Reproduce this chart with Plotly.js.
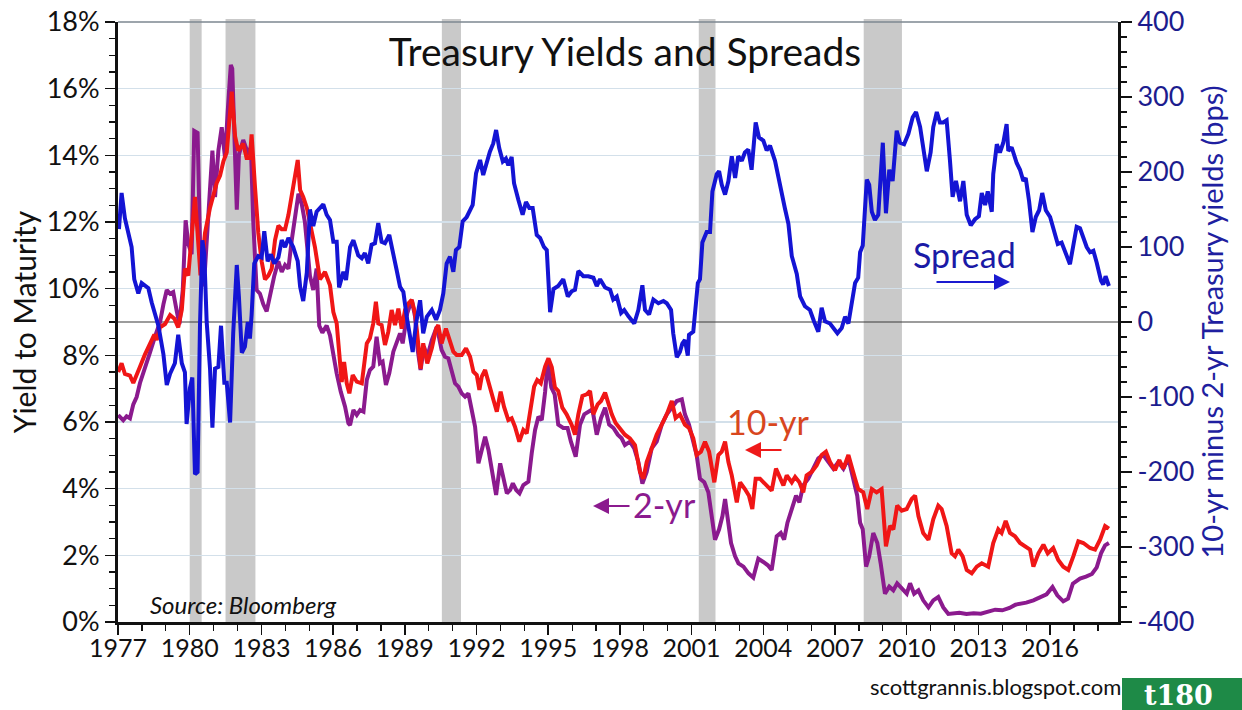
<!DOCTYPE html>
<html>
<head>
<meta charset="utf-8">
<script src="https://cdn.plot.ly/plotly-3.0.1.min.js"></script>
<style>
  html, body { margin: 0; padding: 0; background: #ffffff; }
  #chart { width: 1242px; height: 710px; }
</style>
</head>
<body>
<div id="chart"></div>
<script>
// ---------------- DATA ----------------
const spreadYears = [1977.04,1977.15,1977.29,1977.57,1977.68,1977.85,1977.99,1978.27,1978.41,1978.69,1978.90,1979.04,1979.18,1979.38,1979.52,1979.67,1979.80,1979.87,1980.01,1980.11,1980.22,1980.33,1980.43,1980.53,1980.61,1980.71,1980.85,1980.95,1981.06,1981.20,1981.31,1981.45,1981.55,1981.69,1981.82,1981.97,1982.06,1982.18,1982.31,1982.43,1982.52,1982.59,1982.70,1982.87,1983.01,1983.12,1983.26,1983.40,1983.54,1983.71,1983.85,1983.99,1984.13,1984.33,1984.52,1984.62,1984.75,1984.90,1985.03,1985.17,1985.31,1985.45,1985.59,1985.73,1985.87,1986.01,1986.15,1986.25,1986.43,1986.54,1986.71,1986.85,1987.05,1987.20,1987.33,1987.47,1987.61,1987.75,1987.89,1988.03,1988.17,1988.35,1988.52,1988.66,1988.80,1988.94,1989.08,1989.22,1989.33,1989.47,1989.64,1989.77,1989.92,1990.13,1990.31,1990.47,1990.61,1990.75,1990.89,1991.03,1991.14,1991.28,1991.42,1991.59,1991.73,1991.84,1991.98,1992.15,1992.28,1992.43,1992.56,1992.70,1992.82,1992.95,1993.10,1993.23,1993.33,1993.47,1993.57,1993.75,1993.93,1994.07,1994.21,1994.35,1994.52,1994.66,1994.82,1994.94,1995.08,1995.22,1995.42,1995.63,1995.82,1995.98,1996.12,1996.26,1996.47,1996.68,1996.89,1997.03,1997.17,1997.38,1997.59,1997.72,1997.87,1998.05,1998.18,1998.35,1998.60,1998.77,1998.94,1999.05,1999.22,1999.40,1999.61,1999.82,1999.96,2000.14,2000.23,2000.38,2000.51,2000.61,2000.72,2000.84,2000.89,2001.07,2001.17,2001.26,2001.35,2001.45,2001.63,2001.77,2001.87,2002.05,2002.15,2002.26,2002.40,2002.54,2002.68,2002.82,2002.95,2003.10,2003.23,2003.37,2003.51,2003.68,2003.82,2004.00,2004.14,2004.28,2004.49,2004.63,2004.77,2004.90,2005.05,2005.19,2005.40,2005.54,2005.74,2005.95,2006.12,2006.30,2006.44,2006.58,2006.79,2006.93,2007.10,2007.28,2007.42,2007.56,2007.70,2007.84,2007.97,2008.05,2008.16,2008.23,2008.33,2008.43,2008.54,2008.67,2008.81,2009.00,2009.13,2009.27,2009.41,2009.58,2009.72,2009.89,2010.07,2010.25,2010.39,2010.56,2010.69,2010.84,2011.00,2011.11,2011.26,2011.39,2011.53,2011.67,2011.81,2011.92,2012.06,2012.23,2012.37,2012.51,2012.68,2012.86,2013.02,2013.14,2013.28,2013.39,2013.56,2013.62,2013.77,2013.90,2014.04,2014.18,2014.25,2014.39,2014.60,2014.74,2014.88,2014.98,2015.12,2015.26,2015.40,2015.54,2015.67,2015.82,2016.00,2016.13,2016.32,2016.48,2016.62,2016.83,2016.97,2017.11,2017.25,2017.39,2017.53,2017.67,2017.81,2017.95,2018.13,2018.22,2018.32,2018.46];
const spreadBps = [124,172,138,100,57,38,52,45,26,-5,-43,-84,-69,-55,-17,-55,-67,-136,-88,-74,-203,-200,-5,109,90,0,-62,-141,-62,-60,-5,-81,-81,-134,-15,76,33,-41,-33,0,-22,9,78,88,86,121,81,90,78,86,109,100,112,100,81,47,28,66,150,128,147,152,157,143,136,107,107,46,67,56,100,109,89,85,92,78,103,105,132,107,105,116,87,69,47,40,7,-20,-40,-2,29,-15,7,16,3,16,38,78,87,67,96,100,134,140,149,156,198,216,196,214,227,238,256,232,214,218,209,220,185,163,143,160,152,152,116,112,100,96,13,44,48,57,34,41,43,68,61,61,59,48,57,46,43,30,34,12,16,8,-2,16,49,16,10,30,25,28,25,16,-15,-47,-40,-29,-24,-45,-17,-13,21,52,57,106,120,120,174,197,201,183,170,188,221,192,221,215,226,230,203,266,246,242,229,235,215,192,174,152,131,88,64,34,21,16,1,-13,19,1,-2,-8,-15,-8,7,-2,25,52,59,93,102,147,190,183,147,136,143,239,145,203,188,255,239,237,251,273,280,260,230,201,226,260,280,266,266,269,215,167,188,161,188,143,129,137,141,172,156,174,147,197,237,226,239,264,228,233,212,203,188,192,161,120,140,149,172,149,140,127,104,106,93,77,102,127,125,111,100,93,95,79,55,50,61,48];

const tenYrYears = [1977.01,1977.15,1977.29,1977.50,1977.64,1977.78,1977.92,1978.13,1978.34,1978.52,1978.62,1978.76,1978.97,1979.18,1979.36,1979.52,1979.67,1979.80,1979.94,1980.05,1980.22,1980.33,1980.45,1980.55,1980.64,1980.85,1980.99,1981.13,1981.27,1981.41,1981.55,1981.76,1981.90,1982.03,1982.24,1982.38,1982.52,1982.59,1982.73,1982.87,1983.01,1983.15,1983.29,1983.43,1983.57,1983.71,1983.85,1983.99,1984.13,1984.27,1984.41,1984.52,1984.62,1984.75,1984.90,1985.10,1985.24,1985.45,1985.66,1985.87,1986.01,1986.15,1986.29,1986.36,1986.46,1986.57,1986.68,1986.82,1986.99,1987.20,1987.41,1987.54,1987.68,1987.79,1987.89,1988.03,1988.17,1988.31,1988.45,1988.59,1988.73,1988.87,1989.01,1989.15,1989.29,1989.43,1989.56,1989.66,1989.77,1989.94,1990.13,1990.31,1990.40,1990.54,1990.72,1990.89,1991.03,1991.17,1991.38,1991.56,1991.73,1991.87,1992.01,1992.12,1992.22,1992.36,1992.50,1992.71,1992.85,1993.01,1993.15,1993.33,1993.47,1993.61,1993.79,1993.96,1994.10,1994.24,1994.41,1994.54,1994.69,1994.87,1995.01,1995.15,1995.28,1995.42,1995.59,1995.77,1995.98,1996.12,1996.26,1996.43,1996.61,1996.75,1996.89,1997.07,1997.21,1997.38,1997.52,1997.66,1997.82,1998.00,1998.21,1998.42,1998.63,1998.84,1998.98,1999.12,1999.33,1999.54,1999.75,1999.96,2000.17,2000.33,2000.51,2000.72,2000.89,2001.07,2001.21,2001.39,2001.56,2001.73,2001.95,2002.12,2002.26,2002.40,2002.54,2002.68,2002.89,2003.03,2003.23,2003.40,2003.54,2003.68,2003.86,2004.07,2004.35,2004.53,2004.70,2004.84,2004.98,2005.19,2005.33,2005.51,2005.67,2005.81,2006.02,2006.23,2006.44,2006.62,2006.79,2007.00,2007.18,2007.35,2007.56,2007.70,2007.84,2007.97,2008.18,2008.35,2008.54,2008.74,2008.95,2009.13,2009.30,2009.44,2009.60,2009.79,2010.00,2010.21,2010.35,2010.49,2010.69,2010.91,2011.11,2011.32,2011.46,2011.67,2011.88,2012.02,2012.16,2012.34,2012.51,2012.72,2012.93,2013.14,2013.41,2013.62,2013.83,2013.97,2014.14,2014.32,2014.53,2014.74,2014.95,2015.16,2015.30,2015.51,2015.72,2015.90,2016.13,2016.34,2016.55,2016.76,2016.97,2017.18,2017.39,2017.67,2017.88,2018.09,2018.30,2018.46];
const tenYrPct = [7.50,7.76,7.44,7.39,7.17,7.39,7.66,8.03,8.35,8.62,8.46,8.84,8.94,9.21,9.10,8.84,9.37,10.60,10.39,11.46,12.75,11.67,10.40,11.00,11.67,12.43,12.75,13.17,13.39,13.82,14.09,15.91,14.57,14.14,14.35,13.92,13.92,14.63,13.07,11.67,10.82,10.28,10.39,10.60,11.46,11.89,11.78,11.78,12.21,12.75,13.39,13.86,12.96,12.75,12.43,11.67,11.25,10.28,10.50,10.10,9.30,8.96,7.96,7.20,7.80,7.16,6.86,7.41,7.21,7.16,8.36,8.51,8.96,9.61,8.96,8.91,8.31,8.71,9.36,8.91,9.40,8.80,9.36,9.56,9.66,9.26,8.36,7.60,8.36,7.76,8.21,8.80,8.91,8.36,8.80,8.46,8.11,8.01,8.01,8.21,7.96,7.51,7.41,6.96,7.36,7.56,7.16,6.66,6.31,6.91,6.46,6.06,6.11,5.86,5.41,5.76,5.66,6.26,7.06,7.26,7.16,7.66,7.91,7.64,7.04,6.93,6.43,6.23,5.92,5.62,6.23,6.78,6.83,6.93,6.23,6.53,6.63,6.88,6.53,6.23,5.97,5.82,5.62,5.51,5.31,4.50,4.30,4.80,5.21,5.62,5.92,6.23,6.63,6.12,6.23,5.92,5.82,5.51,5.01,5.11,5.41,5.11,4.19,5.01,5.11,5.41,4.80,4.40,3.59,4.19,3.99,3.79,3.39,4.30,4.30,4.15,3.94,4.60,4.30,4.10,4.40,4.19,4.35,4.19,3.89,4.40,4.50,4.70,5.01,5.11,4.80,4.55,4.86,4.60,5.01,4.70,4.30,3.99,3.89,3.39,3.99,3.89,3.99,2.27,2.88,2.78,3.49,3.34,3.39,3.69,3.79,3.18,2.67,2.47,3.08,3.49,3.39,2.88,2.06,1.97,2.17,1.97,1.56,1.46,1.66,1.76,1.66,2.37,2.78,2.67,3.03,2.67,2.57,2.37,2.27,2.17,1.66,2.06,2.32,2.06,2.22,1.86,1.66,1.56,1.97,2.42,2.37,2.22,2.17,2.47,2.88,2.80];

const twoYrYears = [1977.01,1977.22,1977.36,1977.50,1977.64,1977.78,1977.92,1978.13,1978.34,1978.55,1978.76,1978.90,1979.04,1979.18,1979.31,1979.46,1979.57,1979.71,1979.83,1979.94,1980.08,1980.19,1980.33,1980.43,1980.53,1980.64,1980.78,1980.95,1981.06,1981.20,1981.34,1981.48,1981.59,1981.72,1981.78,1981.90,1981.97,1982.06,1982.24,1982.45,1982.56,1982.66,1982.80,1982.94,1983.08,1983.22,1983.40,1983.54,1983.71,1983.85,1983.99,1984.13,1984.27,1984.41,1984.55,1984.69,1984.82,1985.03,1985.17,1985.31,1985.42,1985.55,1985.73,1985.87,1986.01,1986.15,1986.32,1986.50,1986.64,1986.71,1986.85,1986.99,1987.13,1987.27,1987.41,1987.54,1987.68,1987.82,1987.96,1988.07,1988.21,1988.35,1988.52,1988.66,1988.80,1988.91,1989.10,1989.29,1989.43,1989.54,1989.66,1989.80,1989.94,1990.13,1990.34,1990.54,1990.68,1990.82,1990.96,1991.10,1991.24,1991.38,1991.52,1991.66,1991.80,1991.94,1992.08,1992.22,1992.36,1992.50,1992.68,1992.82,1992.99,1993.13,1993.27,1993.41,1993.52,1993.66,1993.80,1993.96,1994.17,1994.31,1994.45,1994.59,1994.73,1994.87,1994.98,1995.13,1995.27,1995.42,1995.63,1995.81,1995.95,1996.15,1996.33,1996.51,1996.71,1996.85,1997.03,1997.21,1997.38,1997.55,1997.73,1997.91,1998.07,1998.21,1998.42,1998.60,1998.77,1998.94,1999.12,1999.33,1999.54,1999.75,1999.96,2000.17,2000.38,2000.59,2000.72,2000.89,2001.07,2001.21,2001.35,2001.53,2001.70,2001.84,2001.98,2002.15,2002.29,2002.40,2002.51,2002.65,2002.82,2002.96,2003.17,2003.38,2003.58,2003.79,2004.00,2004.19,2004.35,2004.56,2004.73,2004.87,2005.01,2005.19,2005.37,2005.51,2005.67,2005.88,2006.09,2006.30,2006.51,2006.72,2006.93,2007.14,2007.35,2007.56,2007.77,2007.93,2008.05,2008.16,2008.30,2008.43,2008.60,2008.77,2008.91,2009.09,2009.27,2009.44,2009.60,2009.79,2010.00,2010.14,2010.31,2010.49,2010.69,2010.91,2011.11,2011.32,2011.53,2011.74,2011.95,2012.20,2012.50,2012.80,2013.10,2013.40,2013.70,2014.00,2014.30,2014.55,2014.80,2015.00,2015.30,2015.55,2015.85,2016.10,2016.30,2016.55,2016.75,2016.95,2017.25,2017.50,2017.75,2017.95,2018.13,2018.30,2018.46];
const twoYrPct = [6.21,6.05,6.17,6.11,6.53,6.75,7.17,7.60,8.09,8.57,9.00,9.53,9.96,9.85,9.90,9.32,8.94,9.96,12.05,11.35,11.03,14.73,14.67,11.46,10.07,10.60,12.21,14.14,12.75,14.14,14.84,13.92,15.32,16.71,16.60,14.25,12.37,14.03,14.46,14.03,14.25,12.00,9.96,9.85,9.53,9.32,9.96,10.39,10.82,10.50,10.71,10.60,11.46,12.21,12.85,12.53,12.00,10.39,9.96,10.60,8.89,8.68,8.89,8.60,8.00,7.46,6.91,6.46,5.96,5.91,6.36,6.21,6.36,6.31,7.26,7.56,7.66,8.56,7.76,7.81,7.11,7.46,8.11,8.36,8.66,8.36,9.26,9.66,9.16,8.16,7.56,8.26,7.96,8.46,8.86,8.16,7.96,7.91,7.56,7.16,7.06,6.86,6.76,6.86,6.36,5.86,4.76,5.16,5.56,5.16,4.46,3.81,4.76,4.36,3.86,3.96,4.16,3.96,3.86,4.11,4.21,5.06,5.76,6.16,6.06,6.90,7.80,7.04,6.83,5.92,5.82,5.82,5.41,4.96,5.92,6.23,6.33,6.38,5.62,6.12,6.43,5.92,5.82,5.62,5.51,5.31,5.41,5.21,4.80,4.15,4.50,5.21,5.41,5.92,6.23,6.43,6.63,6.68,6.23,5.92,5.41,5.01,4.30,4.19,3.89,3.18,2.47,2.78,3.18,3.69,3.18,2.37,1.97,1.76,1.66,1.46,1.33,1.90,1.80,1.70,1.56,2.57,2.67,2.47,2.98,3.39,3.79,3.59,4.10,4.30,4.60,4.91,5.01,4.80,4.60,4.80,4.60,4.91,4.30,3.79,2.98,2.78,1.66,1.97,2.67,2.37,1.76,0.85,1.06,0.95,1.16,1.01,0.85,1.16,0.85,0.95,0.65,0.44,0.65,0.75,0.44,0.24,0.25,0.28,0.24,0.26,0.25,0.30,0.37,0.35,0.42,0.52,0.55,0.58,0.65,0.73,0.83,1.05,0.80,0.62,0.70,1.15,1.30,1.36,1.44,1.64,2.06,2.30,2.37];

const recessionStart = [1980.0, 1981.5, 1990.55, 2001.3, 2008.2];
const recessionEnd   = [1980.5, 1982.75, 1991.35, 2002.0, 2009.8];

const xTickYears = [1977,1980,1983,1986,1989,1992,1995,1998,2001,2004,2007,2010,2013,2016];
const leftTickVals = [0,2,4,6,8,10,12,14,16,18];
const leftTickText = leftTickVals.map(v => v + '%');
const rightTickVals = [-400,-300,-200,-100,0,100,200,300,400];
const rightTickText = rightTickVals.map(v => String(v));

// ---------------- LAYOUT ----------------
const FONT = 'Lato, "Open Sans", "DejaVu Sans", sans-serif';
const L = 118, R = 1118, T = 22, B = 622;          // plot-area pixel edges
const px = x => (x - L) / (R - L);                   // pixel -> paper
const py = y => (B - y) / (B - T);

const shapes = recessionStart.map((s, i) => ({
  type: 'rect', xref: 'x', yref: 'paper', x0: s, x1: recessionEnd[i], y0: 0, y1: 1.005,
  fillcolor: '#c9c9c9', line: {width: 0}, layer: 'below'
}));
shapes.push({type:'line', xref:'paper', yref:'y2', x0:0, x1:1, y0:0, y1:0,
             line:{color:'#3a3a3a', width:1.2}, layer:'below'});
shapes.push({type:'line', xref:'paper', yref:'paper', x0:0, x1:1, y0:1, y1:1,
             line:{color:'#7d8790', width:1.5}});
shapes.push({type:'rect', xref:'paper', yref:'paper', x0:px(1122), x1:px(1244), y0:py(712), y1:py(678),
             fillcolor:'#1e8a47', line:{width:0}});

const traces = [
  {x: twoYrYears, y: twoYrPct, type:'scatter', mode:'lines', name:'2-yr',
   line:{color:'#8b1a8e', width:4}, yaxis:'y'},
  {x: tenYrYears, y: tenYrPct, type:'scatter', mode:'lines', name:'10-yr',
   line:{color:'#f01616', width:4}, yaxis:'y'},
  {x: spreadYears, y: spreadBps, type:'scatter', mode:'lines', name:'Spread',
   line:{color:'#1414d4', width:4}, yaxis:'y2'}
];

const layout = {
  width: 1242, height: 710,
  margin: {l: L, r: 1242 - R, t: T, b: 710 - B, pad: 0},
  paper_bgcolor: '#ffffff', plot_bgcolor: '#ffffff',
  showlegend: false, hovermode: false,
  font: {family: FONT, color: '#111111', size: 24},
  title: {text: 'Treasury Yields and Spreads', x: 625/1242, xanchor: 'center',
          y: 1 - 52/710, yanchor: 'middle', font: {family: FONT, size: 39, color: '#111111'}},
  xaxis: {
    range: [1977, 2018.84], tickmode: 'array', tickvals: xTickYears,
    ticktext: xTickYears.map(String), ticks: 'outside', ticklen: 10, tickwidth: 1.5,
    tickcolor: '#111', showline: true, linecolor: '#111', linewidth: 3,
    showgrid: false, zeroline: false, tickfont: {size: 25, family: FONT, color:'#111'},
    ticklabelstandoff: -8,
    minor: {dtick: 1, tick0: 1977, ticks: 'outside', ticklen: 6, tickwidth: 1.2, tickcolor: '#111', showgrid: false},
    fixedrange: true
  },
  yaxis: {
    range: [0, 18], tickmode: 'array', tickvals: leftTickVals, ticktext: leftTickText,
    ticks: 'outside', ticklen: 10, tickwidth: 1.5, tickcolor: '#111',
    showline: true, linecolor: '#111', linewidth: 3,
    showgrid: true, gridcolor: '#d3e0ea', gridwidth: 1.2, zeroline: false,
    tickfont: {size: 27, family: FONT, color: '#111'},
    minor: {dtick: 0.5, tick0: 0, ticks: 'outside', ticklen: 6, tickwidth: 1.2, tickcolor: '#111', showgrid: false},
    title: {text: 'Yield to Maturity', font: {size: 30, family: FONT, color: '#111'}, standoff: 2},
    fixedrange: true
  },
  yaxis2: {
    overlaying: 'y', side: 'right', range: [-400, 400],
    tickmode: 'array', tickvals: rightTickVals, ticktext: rightTickText,
    ticks: 'outside', ticklen: 11, tickwidth: 1.5, tickcolor: '#111',
    showline: true, linecolor: '#111', linewidth: 3,
    showgrid: false, zeroline: false,
    tickfont: {size: 27, family: FONT, color: '#1c1c8e'},
    minor: {dtick: 20, tick0: 0, ticks: 'outside', ticklen: 6, tickwidth: 1.2, tickcolor: '#111', showgrid: false},
    title: {text: '10-yr minus 2-yr Treasury yields (bps)', font: {size: 29, family: FONT, color: '#1f1fa0'}, standoff: 10},
    fixedrange: true
  },
  shapes: shapes,
  annotations: [
    {text: 'Spread', xref:'paper', yref:'paper', x: px(964), y: py(254), xanchor:'center', yanchor:'middle',
     showarrow:false, font:{size: 34, family: FONT, color:'#1a1aa6'}},
    {text: '', xref:'paper', yref:'paper', x: px(1010), y: py(282), ax: -75, ay: 0,
     showarrow:true, arrowhead:2, arrowsize:1.6, arrowwidth:2, arrowcolor:'#1a1ad0'},
    {text: '10-yr', xref:'paper', yref:'paper', x: px(768), y: py(421), xanchor:'center', yanchor:'middle',
     showarrow:false, font:{size: 34, family: FONT, color:'#d8461e'}},
    {text: '', xref:'paper', yref:'paper', x: px(745), y: py(450), ax: 38, ay: 0,
     showarrow:true, arrowhead:2, arrowsize:1.6, arrowwidth:2, arrowcolor:'#ee1a1a'},
    {text: '2-yr', xref:'paper', yref:'paper', x: px(664), y: py(505), xanchor:'center', yanchor:'middle',
     showarrow:false, font:{size: 34, family: FONT, color:'#8b1a8e'}},
    {text: '', xref:'paper', yref:'paper', x: px(593), y: py(506), ax: 38, ay: 0,
     showarrow:true, arrowhead:2, arrowsize:1.6, arrowwidth:2, arrowcolor:'#8b1a8e'},
    {text: '<i>Source: Bloomberg</i>', xref:'paper', yref:'paper', x: px(243), y: py(604), xanchor:'center', yanchor:'middle',
     showarrow:false, font:{size: 24, family: FONT, color:'#111'}},
    {text: 'scottgrannis.blogspot.com', xref:'paper', yref:'paper', x: px(995), y: py(686), xanchor:'center', yanchor:'middle',
     showarrow:false, font:{size: 22, family: FONT, color:'#111'}},
    {text: '<b>t180</b>', xref:'paper', yref:'paper', x: px(1178), y: py(695), xanchor:'center', yanchor:'middle',
     showarrow:false, font:{size: 27, family: '"DejaVu Serif", serif', color:'#ffffff'}}
  ]
};

Plotly.newPlot('chart', traces, layout, {displayModeBar: false, staticPlot: true});
</script>
</body>
</html>
